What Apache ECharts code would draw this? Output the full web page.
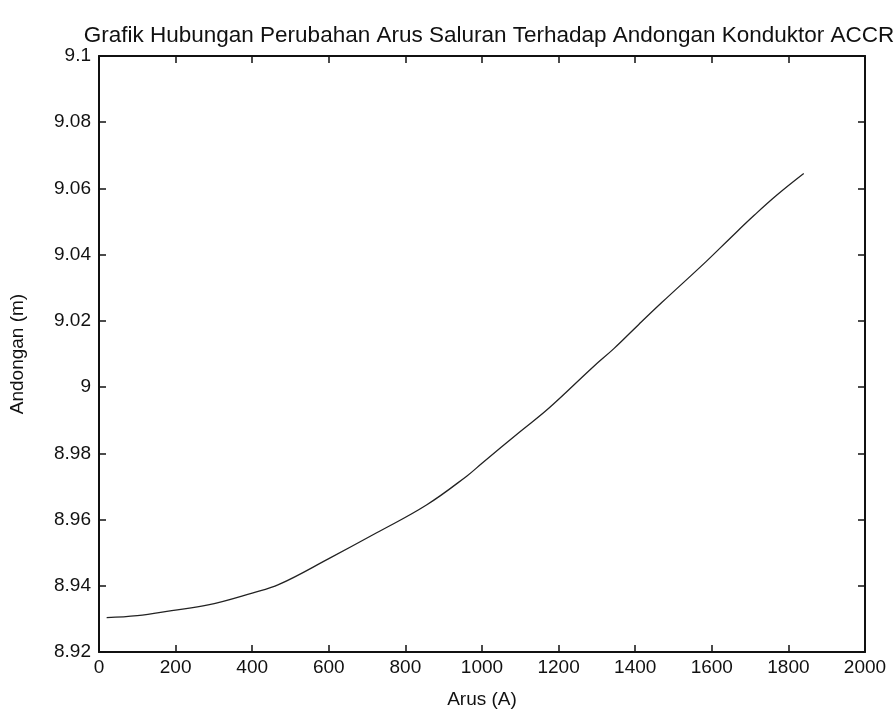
<!DOCTYPE html>
<html>
<head>
<meta charset="utf-8">
<script src="https://cdn.jsdelivr.net/npm/echarts@6/dist/echarts.min.js"></script>
<style>
html,body{margin:0;padding:0;background:#fff;}
#chart{width:895px;height:715px;}
</style>
</head>
<body>
<div id="chart"></div>
<script>
// Data
var arus = [20, 100, 190, 285, 400, 470, 600, 725, 855, 960, 1000, 1100, 1175, 1290, 1345, 1410, 1470, 1585, 1650, 1710, 1770, 1840];
var andongan = [8.9304, 8.9310, 8.9325, 8.9342, 8.9378, 8.9404, 8.9482, 8.9560, 8.9644, 8.9731, 8.9770, 8.9866, 8.9937, 9.0061, 9.0117, 9.0190, 9.0256, 9.0379, 9.0452, 9.0518, 9.0580, 9.0645];
var titleText = 'Grafik Hubungan Perubahan Arus Saluran Terhadap Andongan Konduktor ACCR';
var xName = 'Arus (A)';
var yName = 'Andongan (m)';
var xMin = 0, xMax = 2000, xStep = 200;
var yMin = 8.92, yMax = 9.1, yStep = 0.02;

var points = arus.map(function (a, i) { return [a, andongan[i]]; });
var FONT = '"Liberation Sans", Arial, sans-serif';
var INK = '#111';

function yFmt(v) { return String(parseFloat(v.toFixed(2))); }
function xFmt(v) { return String(Math.round(v)); }

var chart = echarts.init(document.getElementById('chart'), null, {renderer: 'canvas'});
var lineStyleAxis = {color: INK, width: 2};
chart.setOption({
  backgroundColor: '#fff',
  animation: false,
  title: {
    text: titleText,
    left: 484, top: 19, textAlign: 'center',
    textStyle: {fontFamily: FONT, fontSize: 22.5, fontWeight: 'normal', color: INK}
  },
  grid: {left: 98, right: 30, top: 56, bottom: 63, containLabel: false},
  xAxis: [{
    type: 'value', min: xMin, max: xMax, interval: xStep, position: 'bottom',
    name: xName, nameLocation: 'middle', nameGap: 38,
    nameTextStyle: {fontFamily: FONT, fontSize: 19, color: INK},
    axisLine: {show: true, onZero: false, lineStyle: lineStyleAxis},
    axisTick: {show: true, inside: true, length: 7, lineStyle: {color: INK, width: 1.5}},
    axisLabel: {fontFamily: FONT, fontSize: 19, color: INK, margin: 6, formatter: xFmt},
    splitLine: {show: false}
  }, {
    type: 'value', min: xMin, max: xMax, interval: xStep, position: 'top',
    axisLine: {show: true, onZero: false, lineStyle: lineStyleAxis},
    axisTick: {show: true, inside: true, length: 7, lineStyle: {color: INK, width: 1.5}},
    axisLabel: {show: false},
    splitLine: {show: false}
  }],
  yAxis: [{
    type: 'value', min: yMin, max: yMax, interval: yStep, position: 'left',
    name: yName, nameLocation: 'middle', nameGap: 72,
    nameTextStyle: {fontFamily: FONT, fontSize: 19, color: INK},
    axisLine: {show: true, onZero: false, lineStyle: lineStyleAxis},
    axisTick: {show: true, inside: true, length: 7, lineStyle: {color: INK, width: 1.5}},
    axisLabel: {fontFamily: FONT, fontSize: 19, color: INK, margin: 8, formatter: yFmt},
    splitLine: {show: false}
  }, {
    type: 'value', min: yMin, max: yMax, interval: yStep, position: 'right',
    axisLine: {show: true, onZero: false, lineStyle: lineStyleAxis},
    axisTick: {show: true, inside: true, length: 7, lineStyle: {color: INK, width: 1.5}},
    axisLabel: {show: false},
    splitLine: {show: false}
  }],
  series: [{
    type: 'line',
    data: points,
    xAxisIndex: 0, yAxisIndex: 0,
    showSymbol: false,
    smooth: 0.4,
    lineStyle: {color: '#222', width: 1.3}
  }]
});
</script>
</body>
</html>
